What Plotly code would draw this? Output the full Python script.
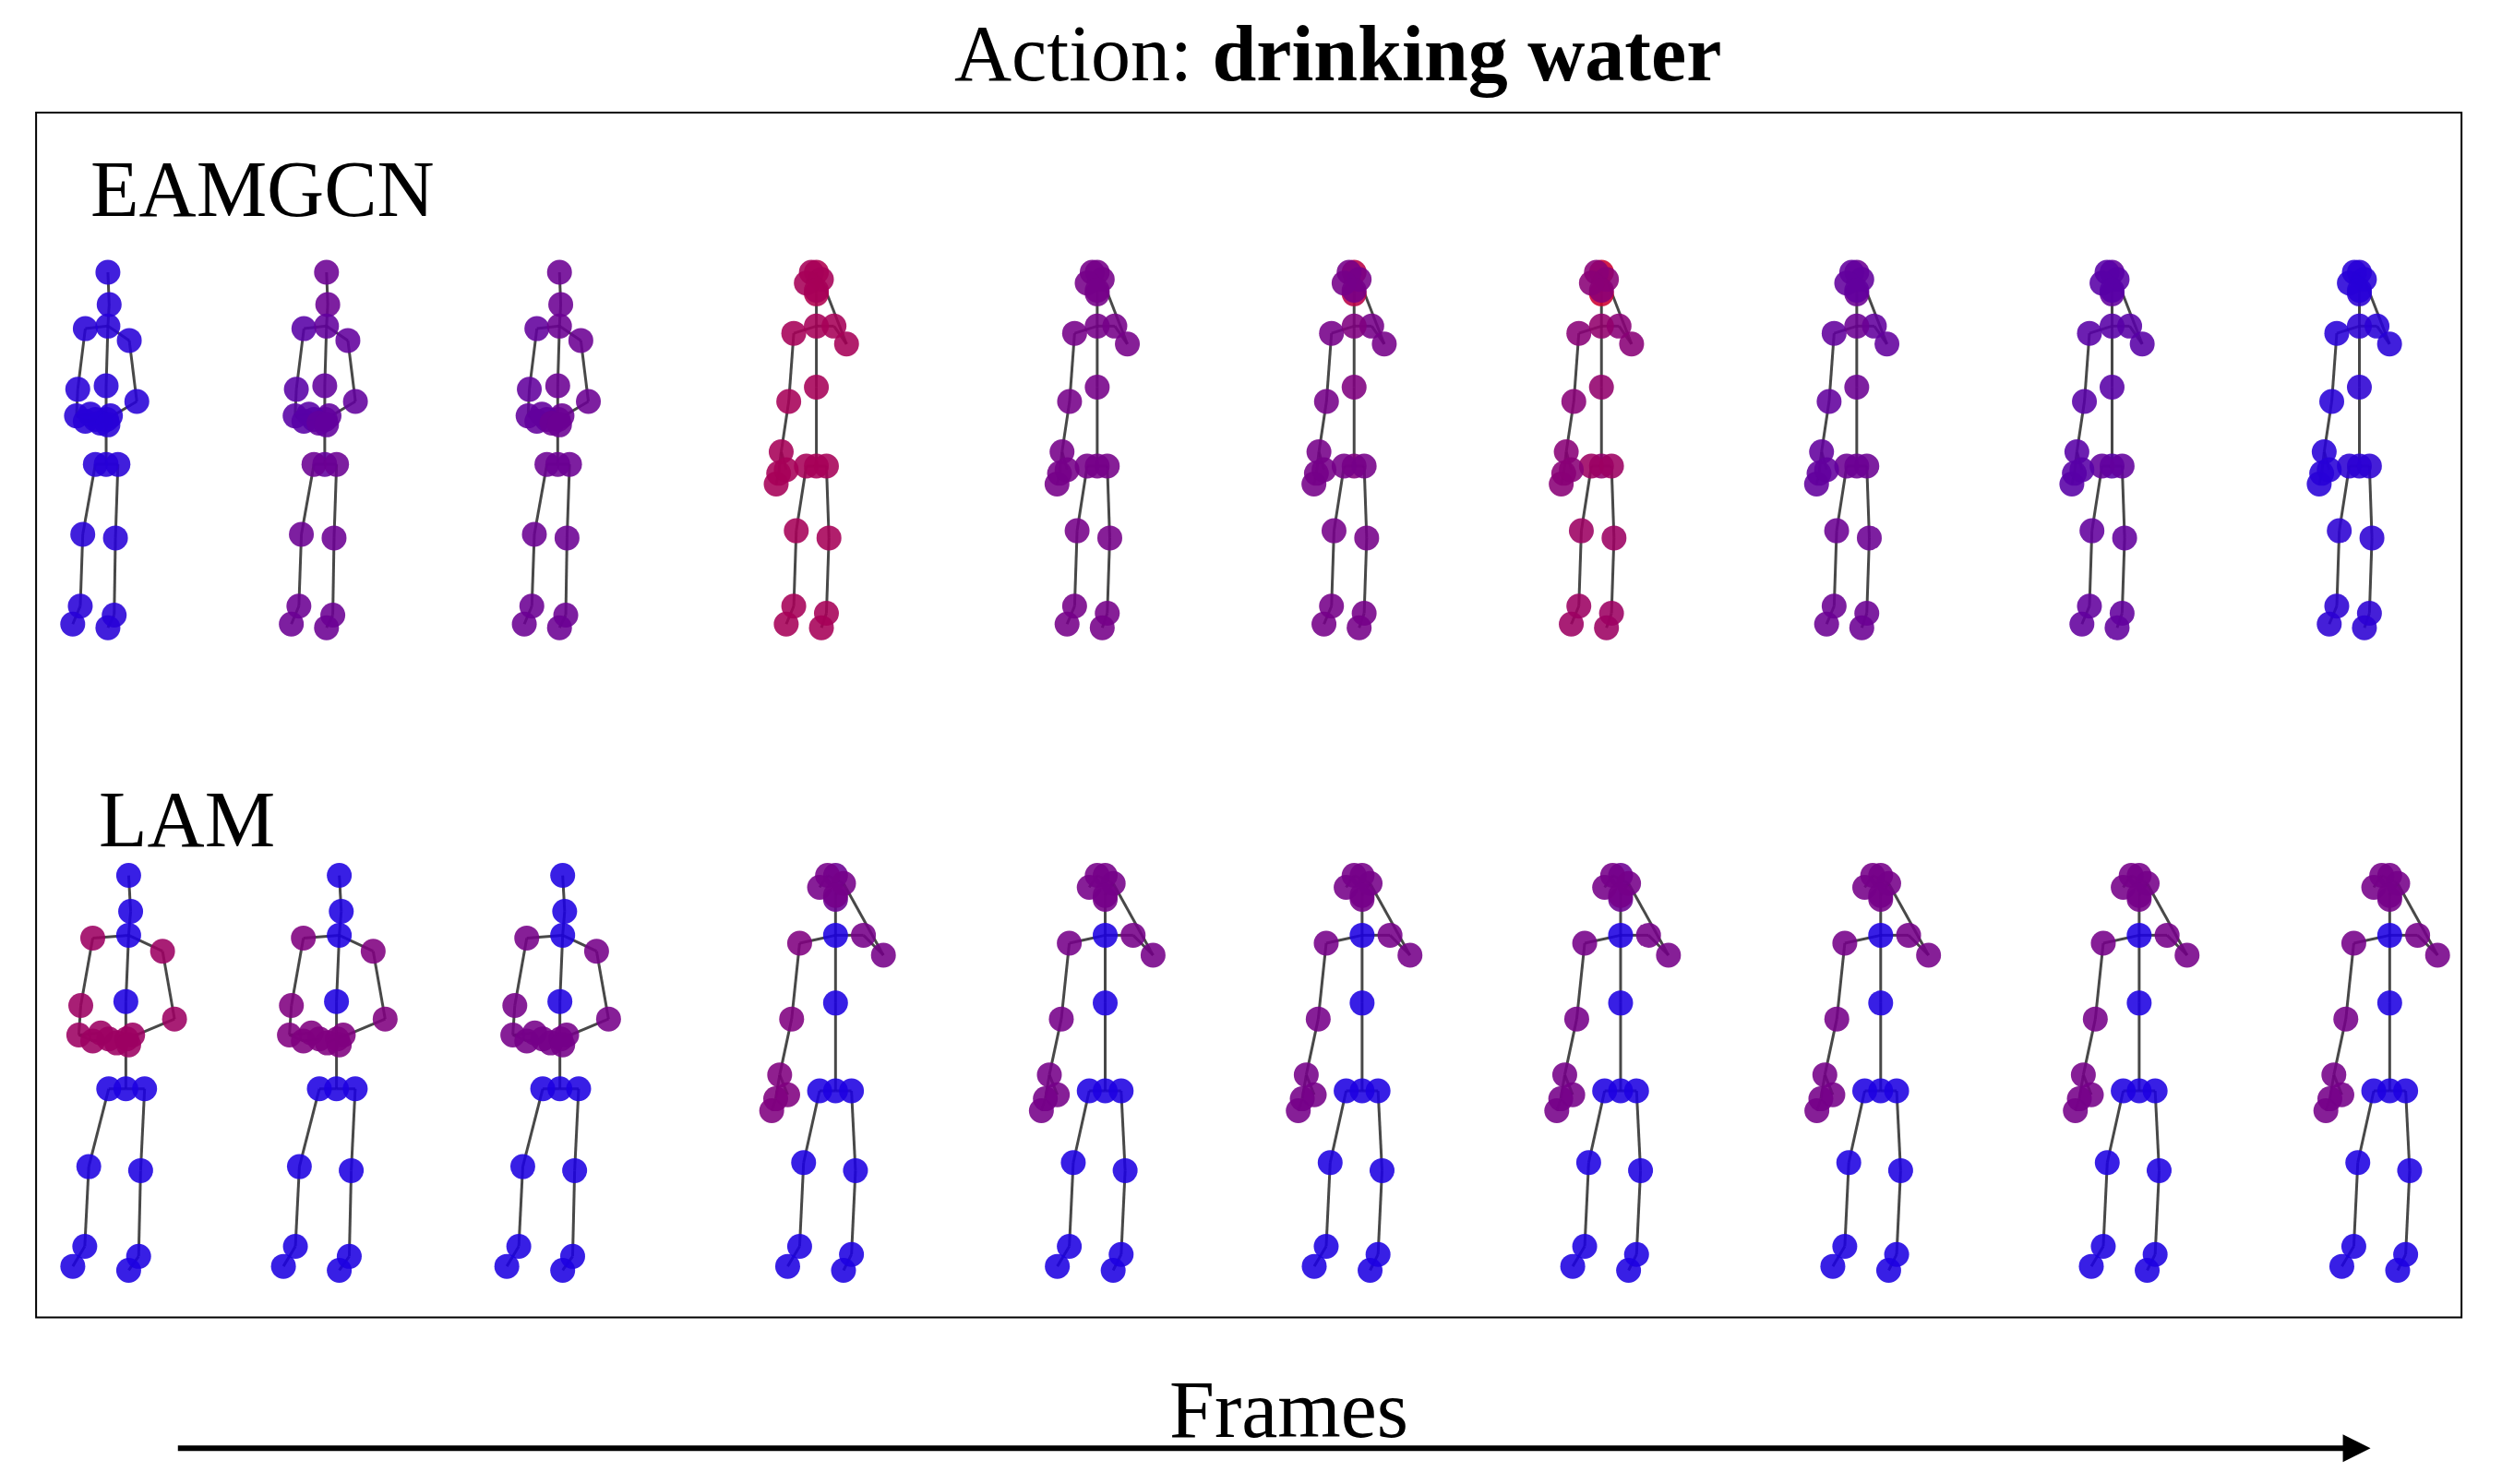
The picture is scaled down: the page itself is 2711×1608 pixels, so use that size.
import plotly.graph_objects as go

W, H = 2711, 1608

# NTU-RGB+D 25-joint pose templates (normalised: head=(0,0), feet ~ y=1)
pose_chest = [(-0.007,0.535),(-0.007,0.316),(0.005,0.09),(0,0),
              (-0.09,0.157),(-0.12,0.326),(-0.125,0.40),(-0.09,0.415),
              (0.085,0.19),(0.115,0.36),(-0.005,0.41),(0.01,0.40),
              (-0.05,0.535),(-0.10,0.73),(-0.11,0.93),(-0.14,0.98),
              (0.04,0.535),(0.03,0.74),(0.025,0.955),(0.0,0.99),
              (0,0.15),(-0.05,0.41),(-0.07,0.395),(-0.03,0.42),(0.0,0.425)]
pose_mouth = [(0,0.54),(0,0.32),(0,0.06),(0,0),
              (-0.09,0.17),(-0.11,0.36),(-0.14,0.50),(-0.15,0.56),
              (0.07,0.15),(0.12,0.20),(0.02,0.02),(-0.02,0.0),
              (-0.04,0.54),(-0.08,0.72),(-0.09,0.93),(-0.12,0.98),
              (0.04,0.54),(0.05,0.74),(0.04,0.95),(0.02,0.99),
              (0,0.15),(-0.16,0.59),(-0.12,0.55),(-0.04,0.03),(0.0,0.05)]
poses = {"chest": pose_chest, "mouth": pose_mouth}
edges = [(0,1),(1,20),(20,2),(2,3),(20,4),(4,5),(5,6),(6,7),(7,21),(6,22),
         (20,8),(8,9),(9,10),(10,11),(11,23),(10,24),(0,12),(12,13),(13,14),
         (14,15),(0,16),(16,17),(17,18),(18,19)]
groups = {"head":[2,3],"torso":[0,1,20],"larm":[4,5,6,7,21,22],
          "rarm":[8,9,10,11,23,24],"legs":[12,13,14,15,16,17,18,19]}

# EAMGCN row
eam_x = [67,204,350,511,687,848,1003,1163,1323,1478]
eam_pose = ["chest","chest","chest","mouth","mouth","mouth","mouth","mouth","mouth","mouth"]
eam_head = [0.1,0.45,0.45,0.8,0.5,0.85,0.95,0.45,0.4,0.12]
eam_torso = [0.1,0.4,0.45,0.75,0.5,0.55,0.65,0.45,0.35,0.12]
eam_larm = [0.1,0.35,0.4,0.75,0.5,0.5,0.6,0.4,0.35,0.1]
eam_rarm = [0.1,0.4,0.45,0.75,0.5,0.5,0.6,0.4,0.35,0.1]
eam_legs = [0.1,0.45,0.45,0.75,0.5,0.5,0.7,0.45,0.4,0.12]
# LAM row
lam_x = [80,212,352,523,692,853,1015,1178,1340,1497]
lam_pose = ["chest","chest","chest","mouth","mouth","mouth","mouth","mouth","mouth","mouth"]
lam_head = [0.05,0.05,0.05,0.45,0.5,0.5,0.45,0.5,0.5,0.5]
lam_torso = [0.05]*10
lam_larm = [0.7,0.55,0.5,0.55,0.5,0.5,0.5,0.5,0.5,0.5]
lam_rarm = [0.7,0.55,0.5,0.5,0.5,0.5,0.5,0.5,0.5,0.5]
lam_legs = [0.05]*10

S = W / 1568.0
OX, OY = -4, -4
def px(v): return (v + OX) * S
def py(v): return (v + OY) * S

rows = [
    dict(x=eam_x, pose=eam_pose, top=170, h=225, xs=0.7,
         att=dict(head=eam_head, torso=eam_torso, larm=eam_larm, rarm=eam_rarm, legs=eam_legs)),
    dict(x=lam_x, pose=lam_pose, top=548, h=250, xs=1.0,
         att=dict(head=lam_head, torso=lam_torso, larm=lam_larm, rarm=lam_rarm, legs=lam_legs)),
]

def col(a):
    return f"rgb({int(20+195*a)},0,{int(235-195*a)})"

fig = go.Figure()
for r in rows:
    for i, cx in enumerate(r["x"]):
        p = poses[r["pose"][i]]
        xs = [px(cx + dx * r["h"] * r["xs"]) for dx, dy in p]
        ys = [py(r["top"] + dy * r["h"]) for dx, dy in p]
        lx, ly = [], []
        for a, b in edges:
            lx += [xs[a], xs[b], None]; ly += [ys[a], ys[b], None]
        fig.add_trace(go.Scatter(x=lx, y=ly, mode="lines",
                                 line=dict(color="rgba(40,40,40,0.85)", width=3),
                                 hoverinfo="skip", showlegend=False))
        c = [None]*25
        for g, idx in groups.items():
            for j in idx:
                c[j] = col(r["att"][g][i])
        fig.add_trace(go.Scatter(x=xs, y=ys, mode="markers",
                                 marker=dict(size=27, color=c, opacity=0.88, line=dict(width=0)),
                                 showlegend=False))

font = "Liberation Serif"
fig.add_shape(type="rect", x0=px(22), x1=px(1542), y0=py(70), y1=py(825),
              line=dict(color="black", width=2), layer="below")
fig.add_annotation(x=px(838), y=py(33), text="Action: <b>drinking water</b>", showarrow=False,
                   font=dict(family=font, size=86, color="black"))
fig.add_annotation(x=px(55), y=py(118), text="EAMGCN", showarrow=False, xanchor="left",
                   font=dict(family=font, size=86, color="black"))
fig.add_annotation(x=px(60), y=py(513), text="LAM", showarrow=False, xanchor="left",
                   font=dict(family=font, size=86, color="black"))
fig.add_annotation(x=px(807), y=py(883), text="Frames", showarrow=False,
                   font=dict(family=font, size=88, color="black"))
fig.add_annotation(x=px(1485), y=py(907), ax=px(110), ay=py(907), axref="x", ayref="y",
                   xref="x", yref="y", text="", showarrow=True,
                   arrowhead=2, arrowsize=1, arrowwidth=6, arrowcolor="black")

fig.update_layout(width=W, height=H, margin=dict(l=0, r=0, t=0, b=0),
                  plot_bgcolor="white", paper_bgcolor="white",
                  xaxis=dict(range=[0, W], visible=False, fixedrange=True),
                  yaxis=dict(range=[H, 0], visible=False, fixedrange=True))
fig.write_html("out.html")
